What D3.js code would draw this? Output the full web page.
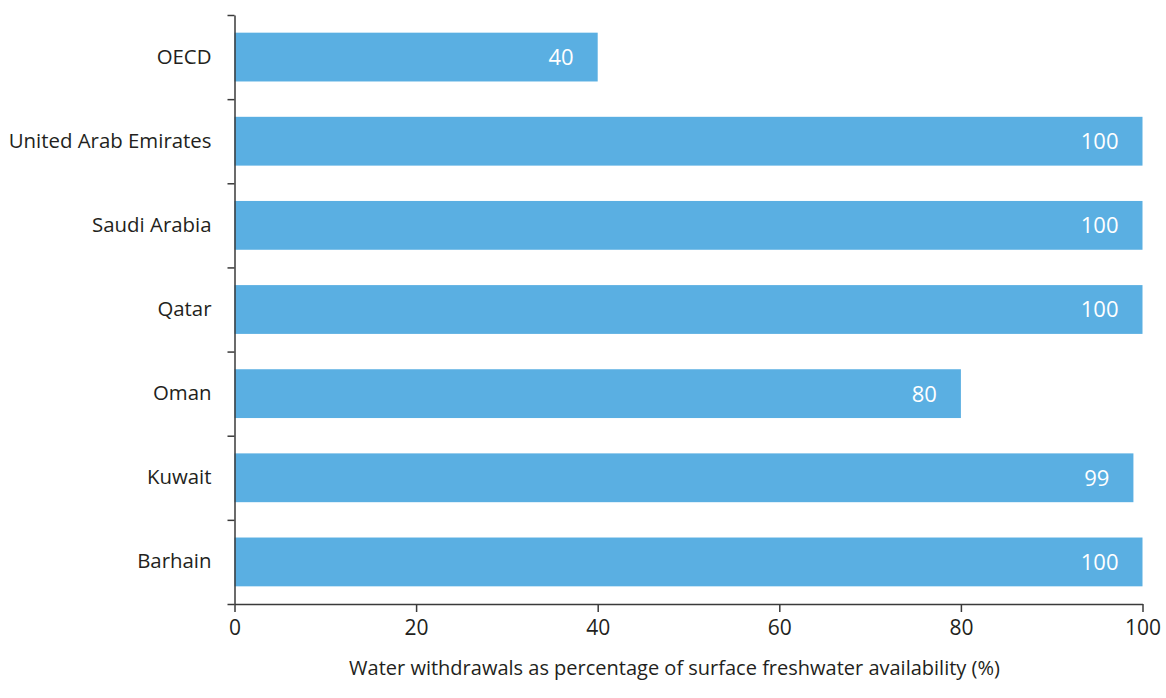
<!DOCTYPE html>
<html>
<head>
<meta charset="utf-8">
<script src="https://cdn.jsdelivr.net/npm/d3@7"></script>
<style>
  html, body { margin: 0; padding: 0; background: #fff; }
  svg { display: block; font-family: "Open Sans", "Noto Sans", sans-serif; }
</style>
</head>
<body>
<svg id="chart" width="1166" height="698"></svg>
<script>
// Water withdrawals as share of surface freshwater availability
const countries = ["OECD", "United Arab Emirates", "Saudi Arabia", "Qatar", "Oman", "Kuwait", "Barhain"];
const withdrawals = [40, 100, 100, 100, 80, 99, 100];
const xTicks = [0, 20, 40, 60, 80, 100];
const xTitle = "Water withdrawals as percentage of surface freshwater availability (%)";

const svg = d3.select("#chart");
const plot = { left: 234.5, right: 1142.5, top: 15, bottom: 604 };

const x = d3.scaleLinear().domain([0, 100]).range([plot.left, plot.right]);
const y = d3.scaleBand().domain(countries).range([plot.top, plot.bottom])
  .paddingInner(0.42).paddingOuter(0.21);
// band edges, for tick marks between categories
const yEdge = d3.scaleLinear().domain([0, countries.length]).range([plot.top, plot.bottom]);

const axisColor = "#3a3a3a";
const textColor = "#231f20";

// bars
svg.append("g").selectAll("rect")
  .data(countries)
  .join("rect")
  .attr("x", x(0))
  .attr("y", d => y(d))
  .attr("width", (d, i) => x(withdrawals[i]) - x(0))
  .attr("height", y.bandwidth())
  .attr("fill", "#5aafe2");

// value labels inside bar ends
svg.append("g").selectAll("text")
  .data(countries)
  .join("text")
  .attr("x", (d, i) => x(withdrawals[i]) - 24)
  .attr("y", d => y(d) + y.bandwidth() / 2)
  .attr("dy", "0.36em")
  .attr("text-anchor", "end")
  .attr("fill", "#fff")
  .attr("font-size", 22)
  .text((d, i) => withdrawals[i]);

// y axis: line with ticks at band edges
const yTicksG = svg.append("g")
  .attr("transform", `translate(${plot.left},0)`)
  .call(d3.axisLeft(yEdge).tickValues(d3.range(0, countries.length + 1))
    .tickFormat("").tickSize(7).tickSizeOuter(0));
yTicksG.selectAll("path, line").attr("stroke", axisColor).attr("stroke-width", 1.5);

// y category labels
const yLab = svg.append("g")
  .attr("transform", `translate(${plot.left - 23},0)`)
  .call(d3.axisLeft(y).tickSize(0).tickPadding(0));
yLab.select(".domain").remove();
yLab.selectAll("text")
  .attr("font-size", 20.4)
  .attr("font-family", "'Open Sans', 'Noto Sans', sans-serif")
  .attr("fill", textColor);

// x axis
const xAxisG = svg.append("g")
  .attr("transform", `translate(0,${plot.bottom})`)
  .call(d3.axisBottom(x).tickValues(xTicks).tickSize(8).tickSizeOuter(0).tickPadding(8));
xAxisG.selectAll("path, line").attr("stroke", axisColor).attr("stroke-width", 1.5);
xAxisG.selectAll("text")
  .attr("font-size", 21)
  .attr("font-family", "'Open Sans', 'Noto Sans', sans-serif")
  .attr("fill", textColor);

// x axis title
svg.append("text")
  .attr("x", 674.5)
  .attr("y", 675)
  .attr("text-anchor", "middle")
  .attr("font-size", 20)
  .attr("fill", textColor)
  .text(xTitle);
</script>
</body>
</html>
